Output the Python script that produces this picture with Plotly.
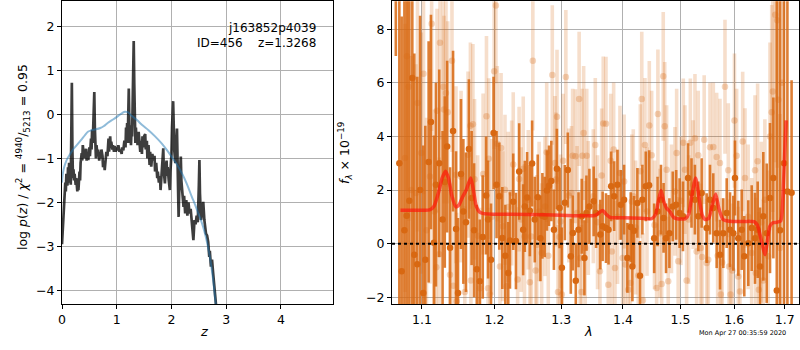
import plotly.graph_objects as go

# ---------------- left panel: log p(z) ----------------
z_grid = [0.00,0.02,0.04,0.06,0.07,0.08,0.10,0.11,0.12,0.13,0.14,0.15,0.16,0.17,0.18,0.19,0.20,0.21,0.22,0.23,
          0.25,0.26,0.28,0.29,0.30,0.32,0.33,0.34,0.36,0.37,0.38,0.40,0.41,0.42,0.44,0.45,0.47,0.48,0.50,0.51,
          0.53,0.54,0.55,0.56,0.57,0.58,0.59,0.60,0.61,0.62,0.63,0.65,0.66,0.68,0.69,0.71,0.72,0.74,0.75,0.77,
          0.78,0.80,0.81,0.83,0.84,0.85,0.86,0.88,0.89,0.90,0.92,0.93,0.95,0.96,0.98,1.00,1.01,1.03,1.05,1.07,
          1.09,1.10,1.12,1.14,1.16,1.17,1.18,1.19,1.20,1.21,1.22,1.23,1.24,1.25,1.26,1.27,1.28,1.29,1.30,1.31,
          1.32,1.33,1.34,1.35,1.36,1.37,1.38,1.40,1.41,1.43,1.44,1.46,1.47,1.49,1.50,1.52,1.53,1.55,1.56,1.58,
          1.60,1.61,1.63,1.65,1.67,1.69,1.70,1.72,1.74,1.75,1.77,1.79,1.80,1.82,1.84,1.85,1.86,1.88,1.89,1.91,
          1.92,1.93,1.95,1.97,1.98,2.00,2.01,2.02,2.03,2.04,2.05,2.07,2.08,2.10,2.11,2.13,2.14,2.16,2.17,2.18,
          2.20,2.22,2.23,2.25,2.27,2.29,2.31,2.33,2.35,2.37,2.39,2.40,2.42,2.44,2.46,2.48,2.50,2.51,2.52,2.54,
          2.56,2.58,2.60,2.62,2.63,2.65,2.67,2.69,2.70,2.72,2.74,2.76,2.78,2.80,2.82,2.84]
logp_z = [-2.95,-2.4,-1.9,-1.55,-1.75,-1.35,-1.62,-1.2,-1.45,-1.1,-1.55,-1.3,-1.6,-0.6,0.72,-0.8,-1.45,-1.25,-1.5,-1.35,
          -1.6,-1.45,-1.75,-1.55,-1.72,-1.3,-1.5,-1.1,-0.88,-1.05,-0.7,-0.95,-0.8,-1.0,-0.78,-1.05,-0.9,-1.04,-0.75,-0.95,
          -0.55,-0.8,-0.35,-0.65,-0.3,0.0,0.51,-0.3,-0.75,-1.0,-0.7,-0.95,-0.8,-1.05,-0.85,-1.0,-0.8,-0.95,-1.2,-1.1,
          -1.27,-1.05,-0.85,-0.95,-0.6,-0.55,-0.85,-0.5,-0.75,-0.62,-0.8,-0.7,-0.85,-0.72,-0.85,-0.75,-0.82,-0.7,-0.85,-0.8,
          -0.9,-0.75,-0.82,-0.6,-0.75,-0.3,-0.55,-0.2,-0.65,-0.05,0.59,-0.2,-0.65,-0.25,-0.7,-0.35,-0.5,0.2,1.0,1.67,
          0.7,-0.2,-0.65,-0.3,-0.6,-0.45,-0.7,-0.4,-0.55,-0.85,-0.6,-0.9,-0.5,-0.75,-0.5,-0.45,-0.8,-0.6,-1.0,-0.7,
          -1.15,-0.85,-1.19,-0.9,-1.05,-0.94,-1.3,-1.1,-1.45,-1.3,-1.55,-1.4,-1.72,-1.2,-0.95,-0.77,-1.3,-1.57,-1.3,-1.05,
          -1.4,-1.2,-1.5,-1.72,-1.3,-0.9,-0.3,0.1,0.30,-0.2,-0.8,-1.11,-0.8,-0.32,-1.0,-2.33,-1.8,-1.3,-0.96,-1.5,
          -1.8,-2.1,-1.85,-2.25,-1.95,-2.3,-2.0,-2.25,-2.15,-2.45,-2.7,-2.86,-2.4,-2.5,-2.3,-2.45,-1.6,-1.04,-1.8,-2.4,
          -2.2,-1.99,-2.4,-2.6,-2.71,-2.75,-2.9,-3.24,-3.1,-3.46,-3.3,-3.6,-3.9,-4.15,-4.4,-4.7]

z_prior = [0.00,0.01,0.03,0.06,0.10,0.15,0.20,0.27,0.35,0.42,0.48,0.54,0.62,0.70,0.76,0.84,0.94,1.02,1.10,1.15,
           1.20,1.27,1.37,1.47,1.58,1.70,1.82,1.92,2.00,2.10,2.19,2.28,2.37,2.43,2.49,2.55,2.61,2.66,2.71,2.76,
           2.80,2.83]
logp_prior = [-1.55,-1.4,-1.25,-1.12,-1.0,-0.9,-0.8,-0.7,-0.58,-0.47,-0.39,-0.36,-0.34,-0.31,-0.27,-0.19,-0.11,-0.04,0.03,0.06,
              0.05,-0.03,-0.13,-0.25,-0.36,-0.5,-0.66,-0.82,-0.96,-1.14,-1.34,-1.58,-1.87,-2.05,-2.25,-2.45,-2.7,-2.97,-3.31,-3.75,
              -4.22,-4.5]

# ---------------- right panel: spectrum ----------------
wave_dark = [1.0660,1.0705,1.0735,1.0770,1.0800,1.0834,1.0873,1.0899,1.0938,1.0975,
             1.1017,1.1044,1.1088,1.1119,1.1159,1.1185,1.1230,1.1275,1.1305,1.1337,
             1.1377,1.1418,1.1459,1.1486,1.1527,1.1560,1.1596,1.1637,1.1675,1.1710,
             1.1748,1.1790,1.1832,1.1880,1.1908,1.1950,1.1987,1.2030,1.2069,1.2113,
             1.2157,1.2200,1.2225,1.2273,1.2313,1.2361,1.2420,1.2445,1.2479,1.2520,
             1.2554,1.2594,1.2639,1.2680,1.2710,1.2745,1.2780,1.2811,1.2847,1.2887,
             1.2933,1.2975,1.3011,1.3058,1.3104,1.3151,1.3183,1.3230,1.3273,1.3325,
             1.3368,1.3400,1.3448,1.3517,1.3556,1.3625,1.3663,1.3718,1.3760,1.3804,
             1.3853,1.3908,1.3964,1.4019,1.4075,1.4132,1.4160,1.4188,1.4245,1.4290,
             1.4331,1.4389,1.4447,1.4535,1.4594,1.4654,1.4700,1.4743,1.4803,1.4863,
             1.4924,1.4985,1.5046,1.5138,1.5201,1.5263,1.5326,1.5387,1.5480,1.5542,
             1.5603,1.5667,1.5730,1.5792,1.5857,1.5920,1.5983,1.6015,1.6079,1.6145,
             1.6195,1.6273,1.6340,1.6405,1.6458,1.6504,1.6569,1.6637,1.6703,1.6770,
             1.6839,1.6906,1.6985,1.7055,1.7141]
flux_dark = [14.0,3.0,-1.03,0.5,1.04,1.6,6.18,-0.41,-0.77,2.0,
             -1.84,-0.6,3.05,4.54,0.03,2.2,3.0,0.9,2.3,3.62,
             -0.15,4.2,0.55,-1.84,2.6,1.2,0.8,3.53,1.7,0.5,
             -0.95,-1.4,0.25,1.8,0.9,-0.6,4.13,2.2,1.77,0.21,
             -0.45,-1.09,0.12,1.56,0.1,2.69,0.52,1.39,1.72,1.23,
             2.99,0.9,1.73,0.2,1.04,1.0,1.98,2.16,2.34,0.52,
             2.79,1.33,-0.9,1.53,2.75,-0.47,0.4,-1.38,0.52,1.02,
             -0.53,1.14,1.39,1.58,1.14,0.34,0.65,0.58,0.52,2.14,
             1.77,2.2,1.45,1.64,-0.53,0.62,-0.85,0.48,1.52,-1.2,
             1.64,2.14,2.18,0.2,1.2,1.64,0.96,0.2,0.39,1.39,
             1.45,1.14,1.02,2.45,1.89,1.64,1.02,1.89,0.58,1.64,
             1.33,0.39,-0.41,0.39,1.14,0.52,0.39,2.45,0.2,0.52,
             -0.47,0.02,0.58,0.2,0.52,-0.85,1.02,0.39,1.7,2.45,
             -1.75,0.5,3.0,1.95,1.9]
err_dark = [7.0,10.0,9.5,9.0,9.0,8.5,9.0,7.5,7.0,6.5,
            5.5,5.0,4.5,4.0,4.0,3.8,3.5,3.3,3.2,3.2,
            3.0,3.0,2.9,2.8,2.8,2.7,2.6,2.6,2.5,2.5,
            2.4,2.3,2.3,2.2,2.2,2.1,2.1,2.0,2.0,1.9,
            1.9,1.9,1.8,1.8,1.8,1.8,1.7,1.7,1.7,1.7,
            1.6,1.6,1.6,1.6,1.6,1.5,1.5,1.5,1.5,1.5,
            1.5,1.5,1.5,1.4,1.4,1.4,1.4,1.4,1.4,1.4,
            1.4,1.4,1.4,1.3,1.3,1.3,1.3,1.3,1.3,1.3,
            1.3,1.3,1.3,1.3,1.3,1.3,1.3,1.3,1.3,1.3,
            1.3,1.3,1.3,1.3,1.3,1.3,1.3,1.3,1.3,1.3,
            1.3,1.3,1.3,1.3,1.3,1.3,1.3,1.3,1.3,1.3,
            1.3,1.3,1.3,1.3,1.3,1.4,1.4,1.4,1.4,1.5,
            1.5,1.6,1.6,1.7,1.8,2.2,2.4,2.6,2.8,3.0,
            12.0,12.0,11.0,15.0,4.2]

wave_light = [1.0778,1.0803,1.0825,1.0858,1.0920,1.0941,1.0991,1.1020,1.1060,1.1106,
              1.1128,1.1165,1.1190,1.1200,1.1230,1.1240,1.1284,1.1294,1.1321,1.1345,
              1.1376,1.1403,1.1421,1.1458,1.1468,1.1528,1.1580,1.1625,1.1658,1.1665,
              1.1693,1.1716,1.1760,1.1792,1.1837,1.1885,1.1907,1.1917,1.1935,1.1962,
              1.1995,1.2020,1.2040,1.2079,1.2095,1.2120,1.2152,1.2177,1.2200,1.2250,
              1.2273,1.2338,1.2360,1.2390,1.2421,1.2440,1.2497,1.2520,1.2540,1.2565,
              1.2607,1.2625,1.2660,1.2699,1.2750,1.2776,1.2800,1.2862,1.2903,1.2918,
              1.2935,1.2950,1.2975,1.2990,1.3010,1.3030,1.3073,1.3120,1.3162,1.3180,
              1.3225,1.3250,1.3283,1.3300,1.3320,1.3335,1.3355,1.3380,1.3405,1.3430,
              1.3511,1.3543,1.3580,1.3619,1.3647,1.3673,1.3718,1.3756,1.3796,1.3815,
              1.3845,1.3867,1.3910,1.3950,1.3995,1.4020,1.4040,1.4091,1.4125,1.4150,
              1.4175,1.4215,1.4260,1.4295,1.4320,1.4340,1.4375,1.4410,1.4450,1.4491,
              1.4540,1.4578,1.4600,1.4636,1.4666,1.4694,1.4720,1.4754,1.4782,1.4840,
              1.4902,1.4932,1.4960,1.5010,1.5052,1.5082,1.5112,1.5150,1.5180,1.5230,
              1.5264,1.5295,1.5324,1.5370,1.5395,1.5434,1.5480,1.5510,1.5542,1.5604,
              1.5667,1.5686,1.5729,1.5745,1.5770,1.5824,1.5887,1.5900,1.5930,1.5965,
              1.6005,1.6047,1.6079,1.6111,1.6164,1.6209,1.6270,1.6339,1.6405,1.6420,
              1.6456,1.6480,1.6530,1.6568,1.6600,1.6665,1.6702,1.6737,1.6758,1.6808,
              1.6848,1.6869,1.6903,1.6945]
flux_light = [3.2,6.99,5.85,2.0,1.89,5.25,3.38,6.34,0.5,2.51,
              8.2,1.2,-0.88,4.96,-0.39,7.49,5.85,5.0,5.62,4.9,
              -1.16,6.82,-1.57,2.57,-2.15,2.5,-1.8,3.32,4.4,-1.37,
              4.45,2.4,0.3,-1.66,2.6,4.75,-1.66,3.17,-1.9,1.0,
              6.43,8.88,3.73,-0.85,3.57,0.65,2.01,-1.59,1.37,1.89,
              2.95,-1.34,2.41,0.9,2.79,0.27,1.64,-1.44,0.27,6.82,
              -1.0,-0.04,1.2,-0.35,1.39,3.41,-0.45,6.29,3.01,2.39,
              4.73,-1.8,0.25,0.83,-1.9,3.09,6.22,1.8,1.89,3.28,
              3.26,1.14,5.4,-0.53,-1.8,3.28,4.13,-0.16,3.28,1.33,
              1.77,3.68,0.8,-1.03,2.54,4.48,4.47,-1.53,3.09,-0.29,
              3.51,-0.91,1.0,2.64,-0.53,2.32,-0.78,-1.72,-1.47,1.57,
              1.77,0.6,-1.19,2.7,5.4,-2.11,3.68,1.2,4.41,3.3,
              0.7,-1.65,4.84,0.39,-1.5,6.24,4.38,2.76,-1.4,1.3,
              1.95,3.38,-0.66,1.6,3.76,2.76,-1.37,0.9,3.76,2.2,
              3.93,-0.29,3.3,-0.16,-0.5,3.88,-0.72,-0.6,3.6,3.61,
              3.23,-0.45,3.01,-1.9,-0.7,5.85,2.74,-0.85,-1.9,-1.0,
              4.59,3.28,-1.22,-1.78,3.81,2.45,1.0,-0.35,2.74,-1.09,
              3.07,-1.72,0.8,-1.37,1.64,-0.47,4.0,4.9,5.68,8.54,
              8.33,5.37,-0.16,6.0]
err_light = [5.0,5.0,5.0,5.0,4.8,4.8,4.5,4.5,4.2,4.0,
             4.0,3.8,3.8,3.8,3.6,3.6,3.5,3.5,3.5,3.4,
             3.4,3.4,3.3,3.3,3.3,3.2,3.2,3.1,3.1,3.1,
             3.0,3.0,3.0,3.0,3.0,3.0,3.0,3.0,3.0,2.9,
             2.9,2.9,2.9,2.8,2.8,2.8,2.8,2.8,2.8,2.7,
             2.7,2.7,2.7,2.7,2.7,2.7,2.6,2.6,2.6,2.6,
             2.6,2.6,2.6,2.6,2.6,2.6,2.6,2.6,2.5,2.5,
             2.5,2.5,2.5,2.5,2.5,2.5,2.5,2.5,2.5,2.5,
             2.5,2.5,2.5,2.5,2.5,2.5,2.5,2.5,2.5,2.5,
             2.5,2.5,2.5,2.5,2.5,2.5,2.5,2.5,2.5,2.5,
             2.5,2.5,2.5,2.5,2.5,2.5,2.5,2.5,2.5,2.5,
             2.5,2.5,2.5,2.5,2.5,2.5,2.5,2.4,2.4,2.4,
             2.4,2.4,2.4,2.4,2.4,2.4,2.4,2.4,2.4,2.4,
             2.4,2.4,2.4,2.4,2.4,2.4,2.4,2.4,2.4,2.4,
             2.4,2.4,2.4,2.4,2.4,2.4,2.4,2.4,2.4,2.4,
             2.4,2.4,2.4,2.4,2.4,2.5,2.5,2.5,2.5,2.5,
             2.5,2.5,2.6,2.6,2.6,2.6,2.7,2.8,2.8,2.8,
             2.9,2.9,3.0,3.0,3.0,3.2,3.5,4.0,4.5,5.5,
             5.5,5.0,5.0,6.0]

wave_model = [1.072,1.085,1.100,1.110,1.116,1.122,1.127,1.1317,1.136,1.140,
              1.1455,1.150,1.155,1.160,1.1662,1.170,1.174,1.1788,1.185,1.200,
              1.250,1.300,1.340,1.355,1.3662,1.372,1.3786,1.400,1.430,1.449,
              1.456,1.461,1.4655,1.470,1.475,1.481,1.487,1.494,1.509,1.515,
              1.520,1.5276,1.534,1.540,1.5455,1.552,1.558,1.5647,1.571,1.5787,
              1.590,1.620,1.6385,1.645,1.652,1.6604,1.665,1.670,1.676,1.684,
              1.692,1.696,1.700,1.703]
flux_model = [1.25,1.25,1.25,1.26,1.4,1.9,2.45,2.7,2.4,1.8,
              1.37,1.45,1.75,2.0,2.45,2.0,1.4,1.18,1.12,1.1,
              1.09,1.06,1.04,1.06,1.24,1.1,0.98,0.97,0.95,0.93,
              1.1,1.6,1.98,1.6,1.33,1.2,1.0,0.93,0.93,1.1,
              1.7,2.45,1.7,1.05,0.9,0.95,1.4,1.85,1.3,0.9,
              0.84,0.83,0.82,0.7,0.2,-0.41,0.1,0.65,0.78,0.8,
              0.85,1.6,3.4,4.6]

left_xticks = [0, 1, 2, 3, 4]
left_yticks = [-4, -3, -2, -1, 0, 1, 2]
right_xticks = [1.1, 1.2, 1.3, 1.4, 1.5, 1.6, 1.7]
right_yticks = [-2, 0, 2, 4, 6, 8]

FONT = "DejaVu Sans"
ORANGE = "216,104,18"

fig = go.Figure()

# left panel
fig.add_trace(go.Scatter(x=z_grid, y=logp_z, mode="lines",
                         line=dict(color="rgba(0,0,0,0.76)", width=2.7),
                         xaxis="x", yaxis="y", showlegend=False, hoverinfo="skip"))
fig.add_trace(go.Scatter(x=z_prior, y=logp_prior, mode="lines", line_shape="spline",
                         line=dict(color="rgba(31,119,180,0.5)", width=2),
                         xaxis="x", yaxis="y", showlegend=False, hoverinfo="skip"))

# right panel
fig.add_trace(go.Scatter(x=wave_light, y=flux_light, mode="markers",
                         marker=dict(color="rgba(%s,0.27)" % ORANGE, size=6.5, line=dict(width=0)),
                         error_y=dict(type="data", array=err_light, visible=True, width=0,
                                      thickness=3.6, color="rgba(%s,0.22)" % ORANGE),
                         xaxis="x2", yaxis="y2", showlegend=False, hoverinfo="skip"))
fig.add_trace(go.Scatter(x=wave_dark, y=flux_dark, mode="markers",
                         marker=dict(color="rgb(%s)" % ORANGE, size=6.5, line=dict(width=0)),
                         error_y=dict(type="data", array=err_dark, visible=True, width=0,
                                      thickness=2.6, color="rgba(%s,0.85)" % ORANGE),
                         xaxis="x2", yaxis="y2", showlegend=False, hoverinfo="skip"))
fig.add_trace(go.Scatter(x=wave_model, y=flux_model, mode="lines", line_shape="spline",
                         line=dict(color="rgba(255,20,10,0.68)", width=3.5, smoothing=0.6),
                         xaxis="x2", yaxis="y2", showlegend=False, hoverinfo="skip"))

fig.add_shape(type="line", xref="x2 domain", yref="y2", x0=0, x1=1, y0=0, y1=0,
              line=dict(color="black", width=2, dash="dot"), layer="above")

axis_common = dict(showline=True, mirror=True, linecolor="black", linewidth=1,
                   ticks="outside", ticklen=4, tickwidth=1, tickcolor="black",
                   showgrid=True, gridcolor="#b0b0b0", gridwidth=1, zeroline=False,
                   automargin=False, tickfont=dict(family=FONT, size=12.5, color="black"))

y0d, y1d = 1 - 304 / 350, 1 - 1.3 / 350
fig.update_layout(
    width=800, height=350, margin=dict(l=0, r=0, t=0, b=0),
    paper_bgcolor="white", plot_bgcolor="white",
    xaxis=dict(domain=[62 / 800, 333 / 800], range=[0, 4.95], tickvals=left_xticks,
               anchor="y", **axis_common),
    yaxis=dict(domain=[y0d, y1d], range=[-4.31, 2.57], tickvals=left_yticks,
               anchor="x", **axis_common),
    xaxis2=dict(domain=[392 / 800, 799 / 800], type="log", range=[0.02576, 0.2379],
                tickvals=right_xticks, ticktext=[str(v) for v in right_xticks],
                anchor="y2", **axis_common),
    yaxis2=dict(domain=[y0d, y1d], range=[-2.25, 9.04], tickvals=right_yticks,
                anchor="x2", **axis_common),
)

ann_font = dict(family=FONT, size=13, color="black")
fig.add_annotation(x=198 / 800, y=1 - 341 / 350, xref="paper", yref="paper",
                   text="<i>z</i>", showarrow=False, font=ann_font)
fig.add_annotation(x=595 / 800, y=1 - 341 / 350, xref="paper", yref="paper",
                   text="<i>λ</i>", showarrow=False, font=ann_font)
fig.add_annotation(x=12 / 800, y=1 - 157 / 350, xref="paper", yref="paper", textangle=-90,
                   text="log <i>p</i>(<i>z</i>) / <i>χ</i><sup>2</sup> = <sup>4940</sup>/<sub>5213</sub> = 0.95",
                   showarrow=False, font=dict(family=FONT, size=12.5, color="black"))
fig.add_annotation(x=345 / 800, y=1 - 153 / 350, xref="paper", yref="paper", textangle=-90,
                   text="<i>f</i><sub><i>λ</i></sub> × 10<sup>−19</sup>",
                   showarrow=False, font=dict(family=FONT, size=12.5, color="black"))
fig.add_annotation(x=318 / 800, y=1 - 19 / 350, xref="paper", yref="paper", xanchor="right",
                   text="j163852p4039", showarrow=False, font=dict(family=FONT, size=12, color="black"))
fig.add_annotation(x=318 / 800, y=1 - 34 / 350, xref="paper", yref="paper", xanchor="right",
                   text="ID=456\u00a0\u00a0\u00a0\u00a0z=1.3268", showarrow=False,
                   font=dict(family=FONT, size=12, color="black"))
fig.add_annotation(x=788 / 800, y=1 - 339 / 350, xref="paper", yref="paper", xanchor="right",
                   text="Mon Apr 27 00:35:59 2020", showarrow=False,
                   font=dict(family=FONT, size=6.5, color="black"))

fig.write_html("out.html")
